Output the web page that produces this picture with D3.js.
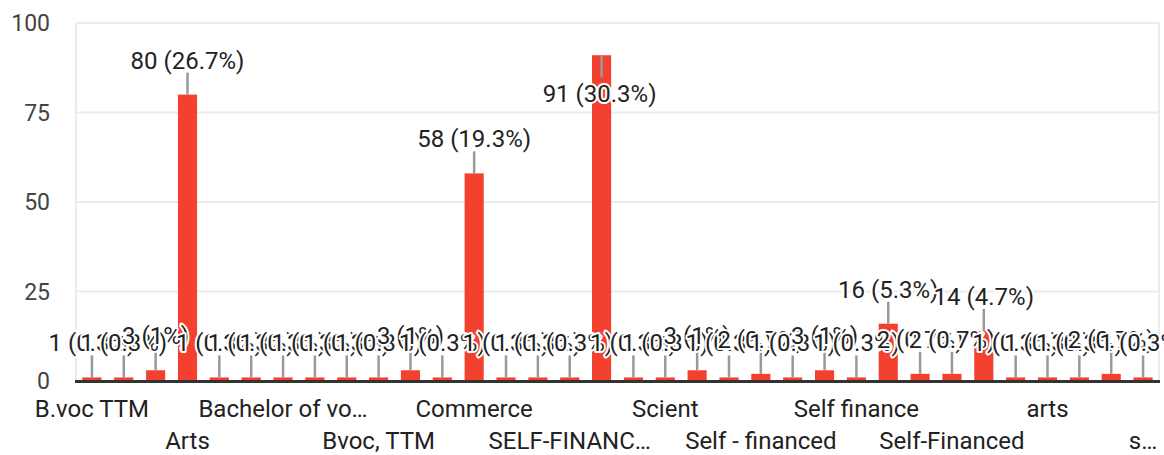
<!DOCTYPE html>
<html><head><meta charset="utf-8">
<script src="https://cdn.jsdelivr.net/npm/d3@7"></script>
<style>
body{margin:0;background:#fff}
svg{display:block;font-family:Roboto,"Noto Sans",sans-serif}
</style>
</head><body>
<svg id="chart" width="1164" height="455"></svg>
<script>
// ---- data ----
const categories = [
  "B.voc TTM","B.Voc TTM","B.voc","Arts","Arts ","Arts and science",
  "Bachelor of vo\u2026","Bachelor of voc","BVoc","Bvoc, TTM","Bvoc","Bvoc TTM",
  "Commerce","COMMERCE","Commerce ","SELF-FINANC\u2026","SELF-FINANCED","SELF-FINANCING",
  "Scient","Science","Science ","Self - financed","Self financed","Self Finance",
  "Self finance","Self financing","Self-finance","Self-Financed","Self-financed","Self-Financing",
  "arts","arts ","self finance","s\u2026"
];
const counts = [1,1,3,80,1,1,1,1,1,1,3,1,58,1,1,1,91,1,1,3,1,2,1,3,1,16,2,2,14,1,1,1,2,1];
const total = 300;
const yTicks = [0,25,50,75,100];
const shownLabels = ["B.voc TTM","Arts","Bachelor of vo\u2026","Bvoc, TTM","Commerce","SELF-FINANC\u2026",
  "Scient","Self - financed","Self finance","Self-Financed","arts","s\u2026"];

// ---- layout ----
const svg = d3.select("#chart");
const x = d3.scaleBand().domain(categories).range([76, 1159]).paddingInner(0.4).paddingOuter(0.2);
const y = d3.scaleLinear().domain([0, 100]).range([381, 23]);
const data = categories.map((c, i) => ({c, v: counts[i], i}));

// gridlines
svg.append("g").selectAll("line").data(yTicks.filter(t => t > 0)).join("line")
  .attr("x1", 76).attr("x2", 1159).attr("y1", d => y(d)).attr("y2", d => y(d))
  .attr("stroke", "#ebebeb").attr("stroke-width", 2);
svg.append("line").attr("x1", 76).attr("x2", 76).attr("y1", y(100)).attr("y2", y(0))
  .attr("stroke", "#ebebeb").attr("stroke-width", 2);
svg.append("line").attr("x1", 1159).attr("x2", 1159).attr("y1", y(100)).attr("y2", y(0))
  .attr("stroke", "#ebebeb").attr("stroke-width", 2);

// y tick labels
svg.append("g").selectAll("text").data(yTicks).join("text")
  .attr("x", 50).attr("y", d => y(d)).attr("dy", "0.35em")
  .attr("text-anchor", "end").attr("font-size", 23).attr("fill", "#444")
  .text(d => d);

// bars
svg.append("g").selectAll("rect").data(data).join("rect")
  .attr("x", d => x(d.c)).attr("width", x.bandwidth())
  .attr("y", d => y(d.v)).attr("height", d => y(0) - y(d.v))
  .attr("fill", "#f4402f");

// baseline
svg.append("line").attr("x1", 75).attr("x2", 1160).attr("y1", y(0) + 0.5).attr("y2", y(0) + 0.5)
  .attr("stroke", "#333").attr("stroke-width", 3);

// annotations
const fmtPct = v => { const p = Math.round(v / total * 1000) / 10; return (p % 1 === 0 ? p.toFixed(0) : p.toFixed(1)) + "%"; };
const inside = d => y(d.v) - 26 - 18 < y(100);
const cx = d => x(d.c) + x.bandwidth() / 2;

svg.append("g").selectAll("line").data(data).join("line")
  .attr("x1", cx).attr("x2", cx)
  .attr("y1", d => y(d.v))
  .attr("y2", d => inside(d) ? y(d.v) + 22 : y(d.v) - 22)
  .attr("stroke", "#999").attr("stroke-width", 2.5);

svg.append("g").selectAll("text").data(data).join("text")
  .attr("x", d => inside(d) ? cx(d) - 2 : cx(d))
  .attr("y", d => inside(d) ? y(d.v) + 47 : y(d.v) - 26)
  .attr("text-anchor", "middle").attr("font-size", 24).attr("fill", "#222")
  .attr("stroke", "#fff").attr("stroke-width", 4).attr("stroke-linejoin", "round")
  .attr("paint-order", "stroke")
  .text(d => `${d.v} (${fmtPct(d.v)})`);

// x axis labels (every third category, two rows)
const shownIdx = d3.range(0, categories.length, 3);
svg.append("g").selectAll("text").data(shownIdx).join("text")
  .attr("x", i => x(categories[i]) + x.bandwidth() / 2)
  .attr("y", (i, k) => k % 2 === 0 ? 417 : 449)
  .attr("text-anchor", "middle").attr("font-size", 24).attr("fill", "#222")
  .text((i, k) => shownLabels[k]);
</script>
</body></html>
